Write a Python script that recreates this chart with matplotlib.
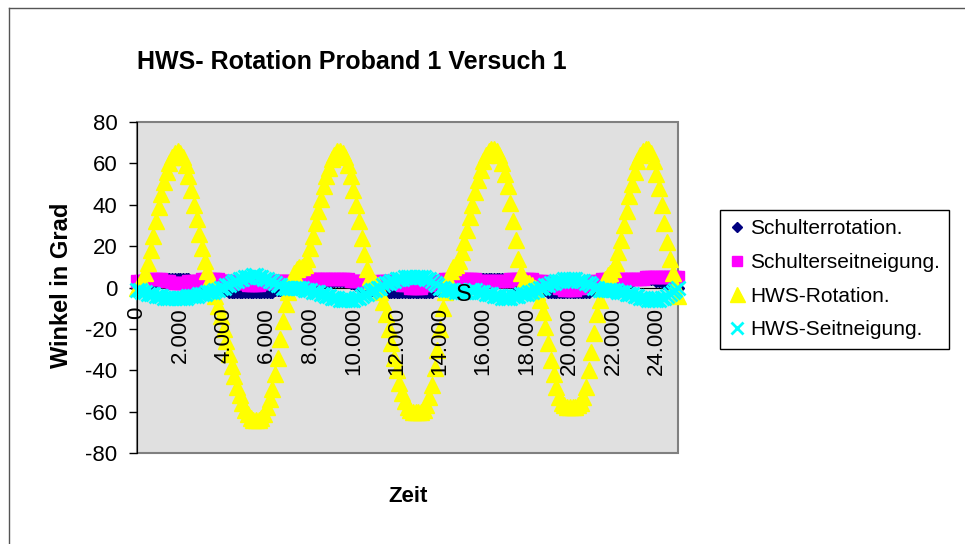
import numpy as np
import matplotlib.pyplot as plt
from matplotlib.lines import Line2D
from matplotlib.patches import Rectangle
from matplotlib.ticker import FuncFormatter, MultipleLocator

plt.rcParams['font.family'] = ['Liberation Sans', 'DejaVu Sans']
plt.rcParams['axes.unicode_minus'] = False

# Winkel in Grad, eine Zeile = 1000 ms (8 Werte a 125 ms)
schulter_rot = [
    0, 0, 1, 1, 1, 2, 2, 3,
    3, 3, 4, 4, 4, 4, 4, 4,
    4, 4, 4, 4, 3, 3, 3, 2,
    2, 1, 1, 0, 0, -1, -1, -1,
    -1, -1, -2, -2, -2, -2, -2, -2,
    -2, -2, -2, -2, -2, -2, -2, -2,
    -2, -2, -2, -1, -1, -1, 0, 0,
    1, 1, 1, 1, 1, 2, 2, 2,
    2, 2, 3, 3, 3, 3, 3, 3,
    3, 3, 3, 3, 3, 3, 3, 2,
    2, 1, 1, 0, 0, 0, 0, -1,
    -1, -1, -1, -1, -2, -2, -2, -2,
    -2, -2, -2, -2, -2, -2, -2, -2,
    -2, -2, -2, -2, -2, -2, -1, -1,
    -1, 0, 0, 1, 1, 1, 2, 2,
    2, 2, 3, 3, 3, 3, 4, 4,
    4, 4, 4, 4, 4, 4, 4, 4,
    3, 3, 3, 2, 1, 1, 0, 0,
    0, 0, 0, -1, -1, -1, -1, -1,
    -2, -2, -2, -2, -2, -2, -2, -2,
    -2, -2, -2, -2, -2, -2, -2, -2,
    -1, -1, -1, 0, 0, 1, 1, 1,
    1, 2, 2, 2, 3, 3, 3, 3,
    4, 4, 4, 4, 4, 4, 4, 4,
    3, 3, 3, 2, 1, 1, 0, 0,
    0]

schulter_seit = [
    3, 3, 3, 3, 4, 4, 4, 4,
    4, 4, 3, 3, 3, 2, 2, 2,
    2, 2, 2, 3, 3, 3, 3, 3,
    4, 4, 4, 4, 4, 4, 4, 3,
    3, 3, 3, 3, 2, 2, 2, 2,
    2, 1, 1, 1, 1, 1, 2, 2,
    2, 2, 3, 3, 3, 3, 3, 3,
    3, 3, 3, 3, 3, 4, 4, 4,
    4, 4, 4, 4, 4, 4, 4, 4,
    4, 4, 4, 4, 4, 4, 4, 3,
    3, 3, 3, 3, 3, 2, 2, 2,
    2, 2, 3, 3, 3, 3, 3, 2,
    2, 2, 1, 1, 1, 0, 0, 0,
    0, 0, 1, 1, 1, 2, 2, 3,
    3, 3, 4, 4, 4, 4, 4, 4,
    4, 4, 4, 4, 4, 4, 3, 3,
    3, 3, 3, 3, 3, 3, 3, 3,
    3, 3, 4, 4, 4, 4, 4, 4,
    4, 4, 4, 3, 3, 3, 3, 2,
    2, 2, 1, 1, 0, 0, -1, -1,
    -1, -1, -1, 0, 0, 1, 1, 2,
    2, 3, 3, 3, 4, 4, 4, 4,
    4, 4, 4, 4, 4, 4, 4, 4,
    4, 4, 4, 4, 5, 5, 5, 5,
    5, 5, 5, 5, 5, 5, 5, 5,
    5]

hws_rot = [
    0, 1, 3, 7, 12, 18, 25, 32,
    39, 45, 51, 56, 60, 63, 65, 66,
    65, 63, 59, 54, 47, 40, 33, 26,
    19, 13, 8, 4, 0, -4, -9, -14,
    -20, -26, -32, -38, -43, -48, -52, -56,
    -59, -61, -63, -64, -64, -64, -63, -61,
    -58, -54, -49, -42, -34, -25, -16, -8,
    -2, 3, 7, 9, 10, 10, 11, 14,
    19, 25, 31, 37, 43, 49, 54, 58,
    62, 64, 66, 66, 65, 63, 59, 54,
    47, 40, 32, 24, 16, 9, 5, 3,
    2, 1, -2, -7, -13, -20, -27, -34,
    -40, -46, -51, -55, -58, -59, -60, -60,
    -60, -60, -59, -57, -53, -47, -39, -30,
    -20, -10, -2, 4, 8, 10, 11, 13,
    17, 22, 28, 34, 40, 46, 52, 57,
    61, 64, 66, 67, 67, 66, 64, 60,
    55, 49, 41, 32, 23, 14, 7, 3,
    2, 2, 1, 0, -2, -6, -12, -19,
    -27, -35, -42, -48, -53, -56, -57, -58,
    -58, -58, -58, -57, -56, -53, -48, -40,
    -31, -22, -13, -6, 0, 4, 6, 7,
    9, 12, 17, 23, 30, 37, 44, 50,
    56, 61, 64, 66, 67, 67, 65, 61,
    55, 48, 40, 31, 22, 14, 7, 1,
    -4]

hws_seit = [
    -1, -1, -2, -2, -3, -3, -3, -4,
    -4, -4, -5, -5, -5, -5, -5, -5,
    -5, -5, -5, -4, -4, -4, -4, -3,
    -3, -3, -2, -2, -2, -1, -1, 0,
    0, 1, 1, 2, 3, 3, 4, 4,
    5, 5, 5, 6, 6, 5, 5, 4,
    4, 3, 3, 2, 1, 1, 0, 0,
    0, 0, 0, 0, 0, 0, -1, -1,
    -1, -2, -2, -2, -3, -3, -4, -4,
    -5, -5, -5, -6, -6, -6, -6, -6,
    -6, -5, -5, -4, -3, -3, -2, -1,
    -1, 0, 0, 1, 2, 2, 3, 3,
    4, 4, 4, 5, 5, 5, 5, 5,
    5, 5, 5, 4, 4, 3, 2, 1,
    0, 0, -1, -1, -1, -1, -2, -2,
    -2, -2, -2, -1, -1, -1, -2, -2,
    -2, -3, -3, -3, -4, -4, -4, -5,
    -5, -5, -5, -4, -4, -4, -3, -3,
    -3, -2, -2, -1, -1, 0, 0, 1,
    1, 2, 2, 3, 3, 3, 4, 4,
    4, 4, 4, 3, 3, 3, 2, 2,
    1, 0, 0, -1, -1, -1, -1, -1,
    -1, -1, -2, -2, -2, -3, -3, -3,
    -4, -4, -5, -5, -5, -6, -6, -6,
    -6, -6, -5, -5, -4, -3, -2, -1,
    0]

zeit = np.arange(len(hws_rot)) * 125  # ms

W, H = 965, 544
fig = plt.figure(figsize=(W / 100, H / 100), dpi=100)

# Rahmen des Diagrammbereichs (rechts/unten abgeschnitten)
fig.add_artist(Line2D([9 / W, 1], [1 - 8 / H, 1 - 8 / H], transform=fig.transFigure, color='#555555', lw=1))
fig.add_artist(Line2D([9 / W, 9 / W], [0, 1 - 8 / H], transform=fig.transFigure, color='#555555', lw=1))

ax = fig.add_axes([137 / W, 1 - 453 / H, 541 / W, 331 / H])
ax.set_facecolor('#E0E0E0')
ax.set_xlim(0, 25000)
ax.set_ylim(-80, 80)

ax.plot(zeit, schulter_rot, ls='none', marker='D', ms=6, color='#000080', mec='#000080',
        label='Schulterrotation.', clip_on=False)
ax.plot(zeit, schulter_seit, ls='none', marker='s', ms=8.5, color='#FF00FF', mec='#FF00FF',
        label='Schulterseitneigung.', clip_on=False)
ax.plot(zeit, hws_rot, ls='none', marker='^', ms=12, color='#FFFF00', mec='#FFFF00',
        label='HWS-Rotation.', clip_on=False)
ax.plot(zeit, hws_seit, ls='none', marker='x', ms=9.5, mew=2, color='#00FFFF',
        label='HWS-Seitneigung.', clip_on=False)

for s in ['top', 'right']:
    ax.spines[s].set_visible(False)
ax.add_patch(Rectangle((0, 0), 1, 1, transform=ax.transAxes, fill=False, ec='#808080',
                       lw=1.5, zorder=0.8, clip_on=False))
ax.spines['left'].set_color('black')
ax.spines['left'].set_zorder(3)
ax.spines['bottom'].set_position(('data', 0))
ax.spines['bottom'].set_color('black')
ax.spines['bottom'].set_zorder(1)
ax.xaxis.set_zorder(4)  # Beschriftung liegt ueber den Daten

ax.yaxis.set_major_locator(MultipleLocator(20))
ax.xaxis.set_major_locator(MultipleLocator(2000))
ax.xaxis.set_major_formatter(FuncFormatter(lambda v, p: f"{int(v):,}".replace(',', '.')))
ax.tick_params(axis='y', direction='out', length=6, width=1, labelsize=16, pad=8)
ax.tick_params(axis='x', direction='out', length=0, width=1, labelsize=16, pad=14, labelrotation=90)

ax.text(15100, -3.5, 'S', fontsize=17, ha='center', va='center', zorder=6)

fig.text(137 / W, 1 - 62 / H, 'HWS- Rotation Proband 1 Versuch 1', fontsize=18,
         fontweight='bold', ha='left', va='center')
fig.text(62 / W, 1 - 285 / H, 'Winkel in Grad', fontsize=17, fontweight='bold',
         rotation=90, ha='center', va='center')
fig.text(408 / W, 1 - 497 / H, 'Zeit', fontsize=16, fontweight='bold', ha='center', va='center')

leg = ax.legend(loc='upper left', bbox_to_anchor=(720 / W, 1 - 210 / H), bbox_transform=fig.transFigure,
                fontsize=15, frameon=True, fancybox=False, edgecolor='black', framealpha=1,
                borderpad=0.45, labelspacing=0.7, handlelength=0.7, handletextpad=0.3,
                borderaxespad=0, numpoints=1, markerscale=0.9)
leg.get_frame().set_linewidth(1)

fig.savefig('out.png', dpi=100)
